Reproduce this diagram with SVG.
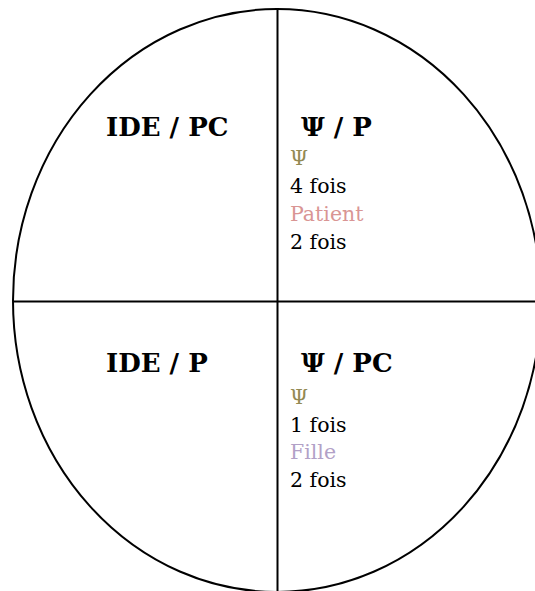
<svg xmlns="http://www.w3.org/2000/svg" width="535" height="591" viewBox="0 0 535 591">
<style>
.h{font-family:"DejaVu Serif","Liberation Serif",serif;font-weight:bold;font-size:26px;fill:#000}
.t{font-family:"DejaVu Serif","Liberation Serif",serif;font-size:20.5px;fill:#000}
.psi{fill:#948A54}
.pat{fill:#D99594}
.fil{fill:#B2A1C7}
.ln{stroke:#000;stroke-width:2;fill:none}
</style>
<rect width="535" height="591" fill="#fff"/>
<g id="connectors">
<ellipse class="ln" cx="277" cy="300.5" rx="264" ry="291.5"/>
<line class="ln" x1="277.5" y1="9" x2="277.5" y2="591"/>
<line class="ln" x1="13" y1="301.5" x2="535" y2="301.5"/>
</g>
<g id="q-ide-pc"><text class="h" x="106" y="136">IDE / PC</text></g>
<g id="q-psi-p">
<text class="h" x="301" y="136">Ψ / P</text>
<text class="t psi" x="290" y="165">Ψ</text>
<text class="t" x="290" y="193">4 fois</text>
<text class="t pat" x="290" y="221">Patient</text>
<text class="t" x="290" y="249">2 fois</text>
</g>
<g id="q-ide-p"><text class="h" x="106" y="372">IDE / P</text></g>
<g id="q-psi-pc">
<text class="h" x="301" y="372">Ψ / PC</text>
<text class="t psi" x="290" y="404">Ψ</text>
<text class="t" x="290" y="432">1 fois</text>
<text class="t fil" x="290" y="459">Fille</text>
<text class="t" x="290" y="487">2 fois</text>
</g>
</svg>
